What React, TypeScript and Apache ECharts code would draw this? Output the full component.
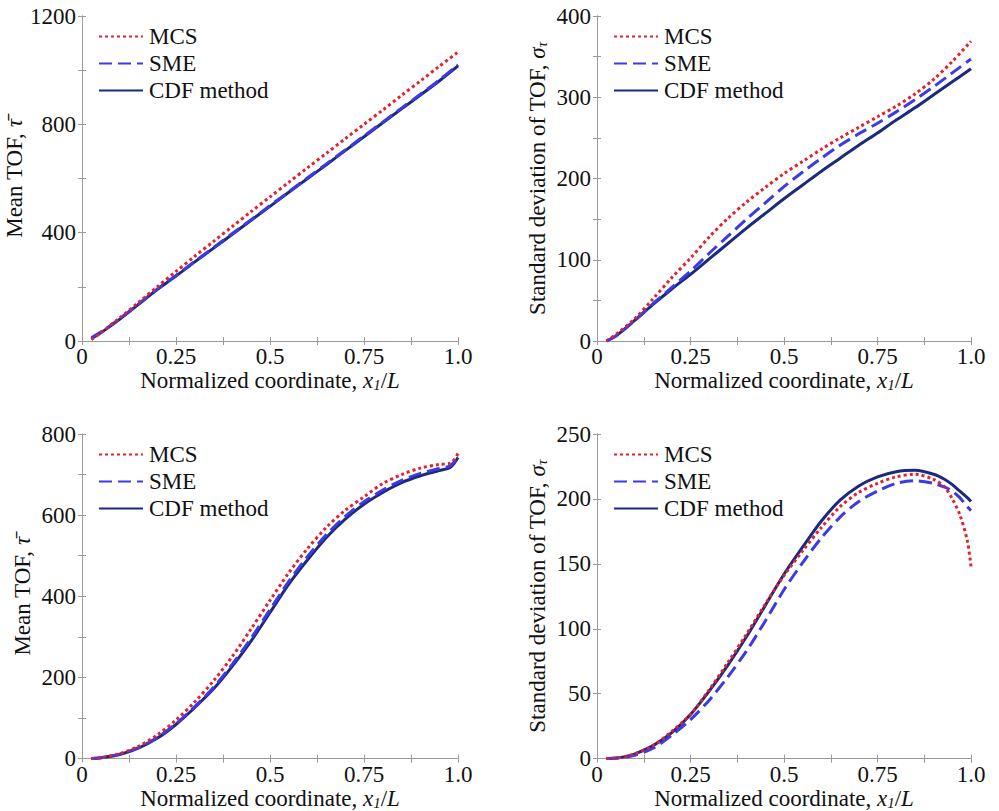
import React, { useEffect, useRef } from 'react';
import * as echarts from 'echarts';

const FONT = 'Liberation Serif, Times New Roman, serif';

// Panel (a): mean TOF, linear case
const xA = [0.025, 0.05, 0.1, 0.15, 0.2, 0.25, 0.3, 0.35, 0.4, 0.45, 0.5, 0.55, 0.6, 0.65, 0.7, 0.75, 0.8, 0.85, 0.9, 0.95, 1.0];
const mcsA = [5, 30, 85, 142, 200, 257, 313, 368, 423, 478, 532, 586, 640, 693, 747, 800, 853, 907, 960, 1014, 1067];
const smeA = [12, 33, 82, 136, 191, 242, 294, 345, 397, 448, 500, 551, 603, 654, 705, 757, 808, 860, 911, 963, 1020];
const cdfA = [8, 30, 80, 135, 190, 240, 292, 343, 394, 446, 497, 549, 600, 651, 703, 754, 806, 857, 908, 960, 1016];

// Panel (b): std of TOF, linear case
const xB = [0.025, 0.05, 0.1, 0.15, 0.2, 0.25, 0.3, 0.35, 0.4, 0.45, 0.5, 0.55, 0.6, 0.65, 0.7, 0.75, 0.8, 0.85, 0.9, 0.95, 1.0];
const mcsB = [0, 8, 27, 52, 78, 102, 128, 151, 171, 189, 206, 221, 236, 250, 263, 276, 289, 304, 322, 344, 369];
const smeB = [0, 6, 25, 46, 66, 86, 108, 129, 150, 170, 190, 208, 225, 241, 255, 268, 282, 297, 313, 330, 347];
const cdfB = [0, 6, 25, 45, 64, 82, 101, 120, 139, 157, 175, 192, 209, 225, 241, 256, 272, 287, 303, 319, 335];

// Panel (c): mean TOF, second case
const xC = [0.025, 0.05, 0.1, 0.15, 0.2, 0.25, 0.3, 0.35, 0.4, 0.45, 0.5, 0.55, 0.6, 0.65, 0.7, 0.75, 0.8, 0.85, 0.9, 0.95, 0.98, 1.0];
const mcsC = [0, 2, 12, 30, 58, 95, 140, 192, 252, 320, 390, 458, 518, 570, 612, 645, 678, 700, 716, 725, 728, 752];
const smeC = [0, 2, 11, 27, 52, 86, 128, 176, 233, 297, 367, 437, 498, 552, 597, 633, 662, 686, 703, 715, 722, 745];
const cdfC = [0, 2, 10, 26, 50, 84, 126, 172, 228, 290, 360, 430, 490, 545, 590, 627, 656, 680, 697, 710, 718, 742];

// Panel (d): std of TOF, second case
const xD = [0.025, 0.05, 0.075, 0.1, 0.15, 0.2, 0.25, 0.3, 0.35, 0.4, 0.45, 0.5, 0.55, 0.6, 0.65, 0.7, 0.75, 0.8, 0.85, 0.9, 0.93, 0.95, 0.97, 0.99, 1.0];
const mcsD = [0, 0.5, 1.5, 3.5, 10, 21, 34, 53, 74, 96, 119, 141, 160, 178, 194, 205, 212, 217, 219, 215, 209, 200, 188, 168, 148];
const smeD = [0, 0.3, 1, 2.5, 8, 18, 30, 45, 63, 83, 106, 130, 151, 170, 186, 198, 206, 212, 214, 212, 209, 206, 201, 194, 191];
const cdfD = [0, 0.5, 1.5, 3.5, 10, 20, 34, 52, 72, 94, 118, 142, 163, 183, 199, 210, 217, 221, 222, 219, 215, 211, 206, 201, 198];

const seriesNames = ['MCS', 'SME', 'CDF method'];
const xTickLabels = ['0', '0.25', '0.5', '0.75', '1.0'];

const panels = [
  { x: xA, ys: [mcsA, smeA, cdfA], yMax: 1200, yTick: 200, yLabelStep: 400, yName: 'Mean TOF, {i|τ̄}', grid: { left: 82, top: 16, width: 376, height: 325 } },
  { x: xB, ys: [mcsB, smeB, cdfB], yMax: 400, yTick: 50, yLabelStep: 100, yName: 'Standard deviation of TOF, {i|σ}{sub|τ}', grid: { left: 597, top: 16, width: 374, height: 325 } },
  { x: xC, ys: [mcsC, smeC, cdfC], yMax: 800, yTick: 100, yLabelStep: 200, yName: 'Mean TOF, {i|τ̄}', grid: { left: 82, top: 434, width: 376, height: 325 } },
  { x: xD, ys: [mcsD, smeD, cdfD], yMax: 250, yTick: 50, yLabelStep: 50, yName: 'Standard deviation of TOF, {i|σ}{sub|τ}', grid: { left: 597, top: 434, width: 374, height: 325 } },
];

const lineStyles = [
  { color: '#e3202b', width: 3, type: [3, 3] },
  { color: '#3b3be6', width: 3, type: [13, 6] },
  { color: '#1b2a7e', width: 3, type: 'solid' },
];

const FS = 23;
const rich = {
  i: { fontFamily: FONT, fontStyle: 'italic', fontSize: FS, color: '#111' },
  sub: { fontFamily: FONT, fontStyle: 'italic', fontSize: 15, color: '#111', verticalAlign: 'bottom', padding: [9, 0, 0, 0] },
  n: { fontFamily: FONT, fontSize: FS, color: '#111' },
};

const AXIS_COLOR = '#9a9a9a';

export default function App() {
  const ref = useRef<HTMLDivElement>(null);
  useEffect(() => {
    if (!ref.current) return;
    const chart = echarts.init(ref.current, undefined, { renderer: 'svg' });
    const grids: any[] = [];
    const xAxes: any[] = [];
    const yAxes: any[] = [];
    const series: any[] = [];
    const legends: any[] = [];
    panels.forEach((p, i) => {
      grids.push({ ...p.grid, containLabel: false });
      xAxes.push({
        gridIndex: i, type: 'value', min: 0, max: 1, interval: 0.125,
        name: 'Normalized coordinate, {i|x}{sub|1}{n|/}{i|L}',
        nameLocation: 'middle', nameGap: 26,
        nameTextStyle: { fontFamily: FONT, fontSize: FS, color: '#111', rich },
        axisLine: { show: true, lineStyle: { color: AXIS_COLOR, width: 1 } },
        axisTick: { show: true, inside: true, length: 4, lineStyle: { color: AXIS_COLOR } },
        axisLabel: {
          fontFamily: FONT, fontSize: 23, color: '#111', margin: 4, showMaxLabel: true, showMinLabel: true,
          formatter: (v: number) => {
            const k = Math.round(v / 0.25);
            return Math.abs(v - k * 0.25) < 1e-9 ? xTickLabels[k] : '';
          },
        },
        splitLine: { show: false },
      });
      yAxes.push({
        gridIndex: i, type: 'value', min: 0, max: p.yMax, interval: p.yTick,
        name: p.yName, nameLocation: 'middle', nameGap: 48,
        nameTextStyle: { fontFamily: FONT, fontSize: FS, color: '#111', rich },
        axisLine: { show: true, lineStyle: { color: AXIS_COLOR, width: 1 } },
        axisTick: { show: true, inside: true, length: 4, lineStyle: { color: AXIS_COLOR } },
        axisLabel: {
          fontFamily: FONT, fontSize: 23, color: '#111', margin: 6,
          formatter: (v: number) => (Math.round(v) % p.yLabelStep === 0 ? String(Math.round(v)) : ''),
        },
        splitLine: { show: false },
      });
      p.ys.forEach((ys, k) => {
        series.push({
          type: 'line', name: seriesNames[k], xAxisIndex: i, yAxisIndex: i,
          data: p.x.map((xv, j) => [xv, ys[j]]),
          symbol: 'none', smooth: 0.3, lineStyle: lineStyles[k],
          itemStyle: { color: lineStyles[k].color },
          z: 5 - k, clip: false,
        });
      });
      legends.push({
        show: true, orient: 'vertical', left: p.grid.left + 11, top: p.grid.top + 4,
        itemWidth: 44, itemHeight: 12, itemGap: 4, data: seriesNames,
        itemStyle: { opacity: 0 },
        textStyle: { fontFamily: FONT, fontSize: FS, color: '#111', padding: [0, 0, 0, 1] },
        selectedMode: false,
      });
    });
    // secondary (top / right) axes for the box and ticks
    panels.forEach((p, i) => {
      xAxes.push({
        gridIndex: i, type: 'value', position: 'top', min: 0, max: 1, interval: 0.125,
        axisLine: { show: true, lineStyle: { color: AXIS_COLOR, width: 1 } },
        axisTick: { show: true, inside: true, length: 4, lineStyle: { color: AXIS_COLOR } },
        axisLabel: { show: false }, splitLine: { show: false },
      });
      yAxes.push({
        gridIndex: i, type: 'value', position: 'right', min: 0, max: p.yMax, interval: p.yTick,
        axisLine: { show: true, lineStyle: { color: AXIS_COLOR, width: 1 } },
        axisTick: { show: true, inside: true, length: 4, lineStyle: { color: AXIS_COLOR } },
        axisLabel: { show: false }, splitLine: { show: false },
      });
    });
    chart.setOption({
      animation: false,
      backgroundColor: '#ffffff',
      textStyle: { fontFamily: FONT },
      grid: grids,
      xAxis: xAxes,
      yAxis: yAxes,
      legend: legends,
      series,
    });
    return () => chart.dispose();
  }, []);
  return <div ref={ref} style={{ position: 'fixed', left: 0, top: 0, width: 999, height: 811 }} />;
}
